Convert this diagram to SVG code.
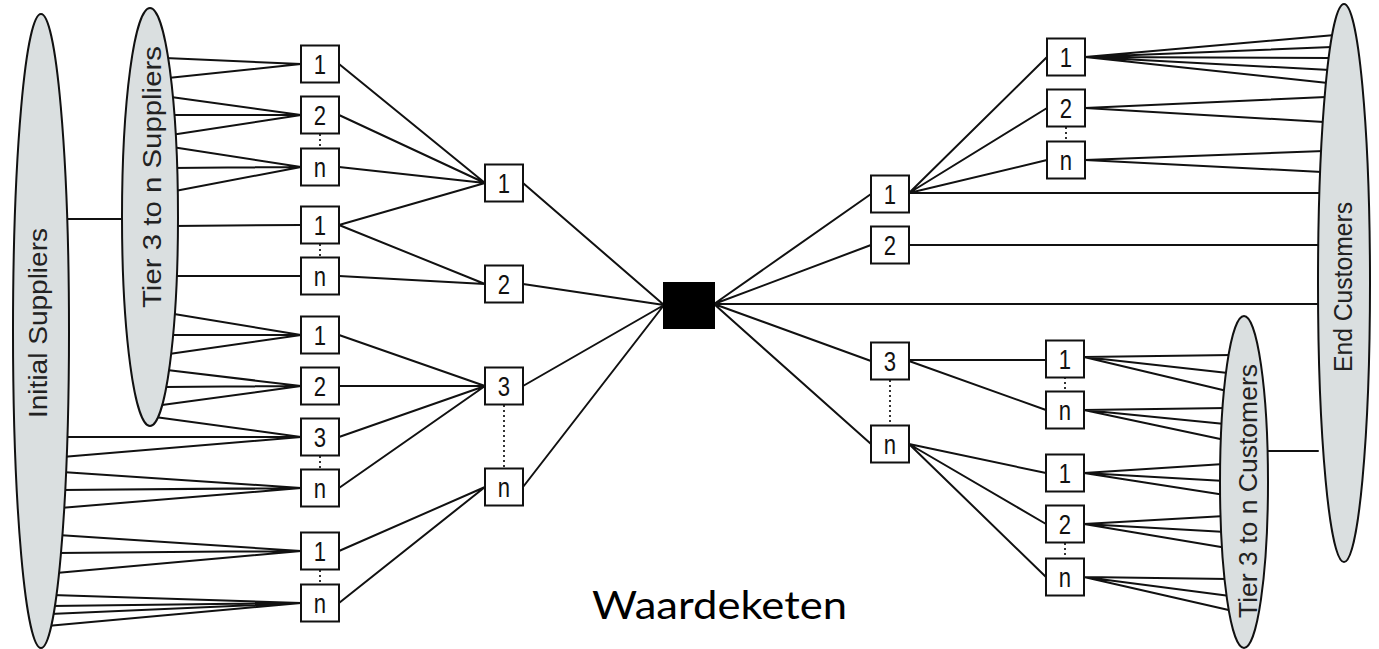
<svg xmlns="http://www.w3.org/2000/svg" width="1379" height="649" viewBox="0 0 1379 649">
<style>
.ln{stroke:#111;stroke-width:2;fill:none;stroke-linecap:round}
.dot{stroke:#333;stroke-width:2;stroke-dasharray:2 3;fill:none}
.ell{fill:#dadfe0;stroke:#111;stroke-width:2}
.box{fill:#fff;stroke:#111;stroke-width:2}
.num{font-family:"Liberation Sans",Arial,sans-serif;font-size:27px;text-anchor:middle;fill:#111}
.lbl{font-family:"Liberation Sans",Arial,sans-serif;font-size:25px;text-anchor:middle;fill:#222}
.title{font-family:Lato,"Liberation Sans",sans-serif;font-size:39px;fill:#000}
</style>
<rect width="1379" height="649" fill="#fff"/>
<g id="connectors">
<path class="ln" d="M68 219H124M1266 451H1318"/>
<path class="ln" d="M165 58L301 64M168 78L301 64
M171 97L301 115M171 115L301 115M171 135L301 115
M172 147L301 167M171 168L301 167M175 191L301 167
M172 226L301 225M172 276L301 276
M168 313L301 335M170 335L301 335M169 354L301 335
M167 370L301 386M165 387L301 386M162 405L301 386
M155 417L301 437M62 437L301 437M62 457L301 437
M62 472L301 488M61 490L301 488M60 508L301 488
M58 535L301 551M57 553L301 551M56 573L301 551
M52 595L301 603M51 606L301 603M50 614L301 603M47 626L301 603"/>
<path class="ln" d="M339 64L485 183M339 115L485 183M339 167L485 183M339 225L485 183
M339 225L485 284M339 276L485 284
M339 335L485 386M339 386L485 386M339 437L485 386M339 488L485 386
M339 551L485 487M339 603L485 487"/>
<path class="ln" d="M523 183L664 305M523 284L664 305M523 386L664 305M523 487L664 305"/>
<path class="ln" d="M714 304L871 194M714 304L871 245M714 304H1322M714 304L871 361M714 304L871 444"/>
<path class="ln" d="M909 193L1047 57M909 193L1047 108M909 193L1047 160M909 193H1322
M909 245H1322
M909 360H1046M909 361L1046 410
M909 444L1046 473M909 444L1046 524M909 444L1046 577"/>
<path class="ln" d="M1085 57L1335 35M1085 57L1332 47M1085 57L1330 58M1085 57L1330 70M1085 57L1328 83
M1085 108L1326 97M1085 108L1324 122
M1085 160L1324 151M1085 160L1322 172"/>
<path class="ln" d="M1084 357L1232 355M1084 357L1228 373M1084 357L1227 391
M1084 410L1227 408M1084 410L1225 424M1084 410L1225 440
M1084 473L1224 464M1084 473L1225 481M1084 473L1225 495
M1084 524L1225 516M1084 524L1226 532M1084 524L1227 548
M1084 577L1228 579M1084 577L1230 596M1084 577L1233 611"/>
<path class="dot" d="M320 134V148M320 244V257M320 456V469M320 570V584M504 405V468M890 380V426M1066 127V141M1065 377V392M1065 543V558"/>
</g>
<g id="initial-suppliers">
<ellipse class="ell" cx="41" cy="331" rx="28" ry="317"/>
<text class="lbl" transform="translate(47,323) rotate(-90)" textLength="190" lengthAdjust="spacingAndGlyphs">Initial Suppliers</text>
</g>
<g id="tier3-suppliers">
<ellipse class="ell" cx="150" cy="217" rx="28" ry="209"/>
<text class="lbl" transform="translate(161,177) rotate(-90)" textLength="262" lengthAdjust="spacingAndGlyphs">Tier 3 to n Suppliers</text>
</g>
<g id="end-customers">
<ellipse class="ell" cx="1344" cy="283" rx="26" ry="279"/>
<text class="lbl" transform="translate(1352,287) rotate(-90)" textLength="170" lengthAdjust="spacingAndGlyphs">End Customers</text>
</g>
<g id="tier3-customers">
<ellipse class="ell" cx="1244" cy="482" rx="24" ry="166"/>
<text class="lbl" transform="translate(1257,491) rotate(-90)" textLength="254" lengthAdjust="spacingAndGlyphs">Tier 3 to n Customers</text>
</g>
<g id="focal-company"><rect x="663" y="282" width="52" height="47" fill="#000"/></g>
<g id="a1" transform="translate(320,64)"><rect class="box" x="-19" y="-18.5" width="38" height="37"/><text class="num" y="10" transform="scale(0.82,1)">1</text></g>
<g id="a2" transform="translate(320,115)"><rect class="box" x="-19" y="-18.5" width="38" height="37"/><text class="num" y="10" transform="scale(0.82,1)">2</text></g>
<g id="a3" transform="translate(320,167)"><rect class="box" x="-19" y="-18.5" width="38" height="37"/><text class="num" y="10" transform="scale(0.82,1)">n</text></g>
<g id="a4" transform="translate(320,225)"><rect class="box" x="-19" y="-18.5" width="38" height="37"/><text class="num" y="10" transform="scale(0.82,1)">1</text></g>
<g id="a5" transform="translate(320,276)"><rect class="box" x="-19" y="-18.5" width="38" height="37"/><text class="num" y="10" transform="scale(0.82,1)">n</text></g>
<g id="a6" transform="translate(320,335)"><rect class="box" x="-19" y="-18.5" width="38" height="37"/><text class="num" y="10" transform="scale(0.82,1)">1</text></g>
<g id="a7" transform="translate(320,386)"><rect class="box" x="-19" y="-18.5" width="38" height="37"/><text class="num" y="10" transform="scale(0.82,1)">2</text></g>
<g id="a8" transform="translate(320,437)"><rect class="box" x="-19" y="-18.5" width="38" height="37"/><text class="num" y="10" transform="scale(0.82,1)">3</text></g>
<g id="a9" transform="translate(320,488)"><rect class="box" x="-19" y="-18.5" width="38" height="37"/><text class="num" y="10" transform="scale(0.82,1)">n</text></g>
<g id="a10" transform="translate(320,551)"><rect class="box" x="-19" y="-18.5" width="38" height="37"/><text class="num" y="10" transform="scale(0.82,1)">1</text></g>
<g id="a11" transform="translate(320,603)"><rect class="box" x="-19" y="-18.5" width="38" height="37"/><text class="num" y="10" transform="scale(0.82,1)">n</text></g>
<g id="b1" transform="translate(504,183)"><rect class="box" x="-19" y="-18.5" width="38" height="37"/><text class="num" y="10" transform="scale(0.82,1)">1</text></g>
<g id="b2" transform="translate(504,284)"><rect class="box" x="-19" y="-18.5" width="38" height="37"/><text class="num" y="10" transform="scale(0.82,1)">2</text></g>
<g id="b3" transform="translate(504,386)"><rect class="box" x="-19" y="-18.5" width="38" height="37"/><text class="num" y="10" transform="scale(0.82,1)">3</text></g>
<g id="b4" transform="translate(504,487)"><rect class="box" x="-19" y="-18.5" width="38" height="37"/><text class="num" y="10" transform="scale(0.82,1)">n</text></g>
<g id="c1" transform="translate(890,194)"><rect class="box" x="-19" y="-18.5" width="38" height="37"/><text class="num" y="10" transform="scale(0.82,1)">1</text></g>
<g id="c2" transform="translate(890,245)"><rect class="box" x="-19" y="-18.5" width="38" height="37"/><text class="num" y="10" transform="scale(0.82,1)">2</text></g>
<g id="c3" transform="translate(890,361)"><rect class="box" x="-19" y="-18.5" width="38" height="37"/><text class="num" y="10" transform="scale(0.82,1)">3</text></g>
<g id="c4" transform="translate(890,444)"><rect class="box" x="-19" y="-18.5" width="38" height="37"/><text class="num" y="10" transform="scale(0.82,1)">n</text></g>
<g id="d1" transform="translate(1066,57)"><rect class="box" x="-19" y="-18.5" width="38" height="37"/><text class="num" y="10" transform="scale(0.82,1)">1</text></g>
<g id="d2" transform="translate(1066,108)"><rect class="box" x="-19" y="-18.5" width="38" height="37"/><text class="num" y="10" transform="scale(0.82,1)">2</text></g>
<g id="d3" transform="translate(1066,160)"><rect class="box" x="-19" y="-18.5" width="38" height="37"/><text class="num" y="10" transform="scale(0.82,1)">n</text></g>
<g id="d4" transform="translate(1065,359)"><rect class="box" x="-19" y="-18.5" width="38" height="37"/><text class="num" y="10" transform="scale(0.82,1)">1</text></g>
<g id="d5" transform="translate(1065,410)"><rect class="box" x="-19" y="-18.5" width="38" height="37"/><text class="num" y="10" transform="scale(0.82,1)">n</text></g>
<g id="d6" transform="translate(1065,473)"><rect class="box" x="-19" y="-18.5" width="38" height="37"/><text class="num" y="10" transform="scale(0.82,1)">1</text></g>
<g id="d7" transform="translate(1065,524)"><rect class="box" x="-19" y="-18.5" width="38" height="37"/><text class="num" y="10" transform="scale(0.82,1)">2</text></g>
<g id="d8" transform="translate(1065,577)"><rect class="box" x="-19" y="-18.5" width="38" height="37"/><text class="num" y="10" transform="scale(0.82,1)">n</text></g>
<text class="title" x="592" y="619" textLength="255" lengthAdjust="spacingAndGlyphs">Waardeketen</text>
</svg>
